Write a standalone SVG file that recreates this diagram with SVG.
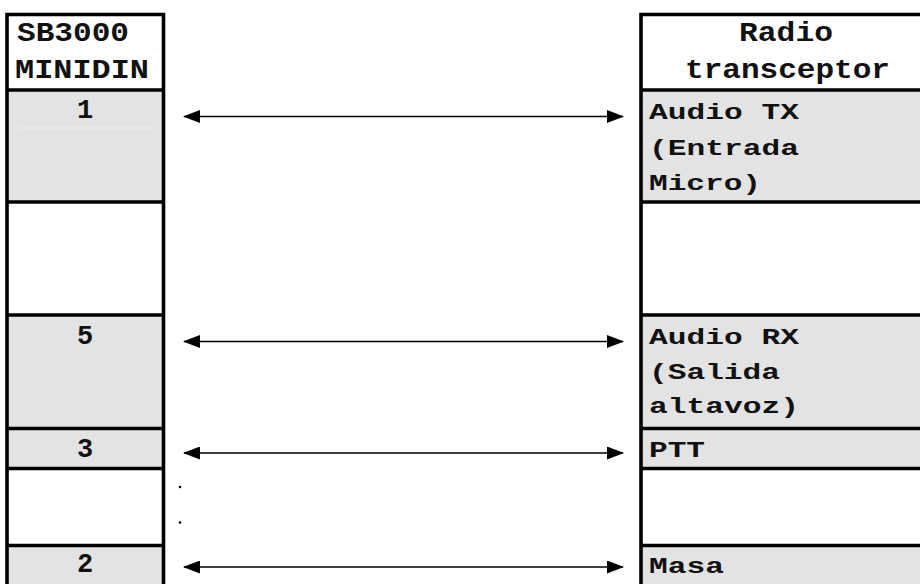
<svg xmlns="http://www.w3.org/2000/svg" width="920" height="584" viewBox="0 0 920 584">
<defs>
<style>
.g{fill:#e3e3e3}
.w{fill:#ffffff}
.b{stroke:#000;stroke-width:3.6;fill:none}
.t{font-family:"Liberation Mono","Courier New",monospace;font-weight:bold;font-size:22px;fill:#111}
.h{font-family:"Liberation Mono","Courier New",monospace;font-weight:bold;font-size:27px;fill:#111}
.c{stroke:#000;stroke-width:1.6;fill:none;marker-start:url(#ah);marker-end:url(#ah)}
</style>
<marker id="ah" viewBox="0 0 17 13" refX="16" refY="6.5" markerWidth="17" markerHeight="13" markerUnits="userSpaceOnUse" orient="auto-start-reverse">
<path d="M0,0 L17,6.5 L0,13 Z" fill="#000"/>
</marker>
</defs>
<rect width="920" height="584" fill="#fff"/>

<g id="left-table">
<rect class="w" x="7" y="14.5" width="156.5" height="75.5"/>
<rect class="g" x="7" y="90" width="156.5" height="112"/>
<rect class="w" x="7" y="202" width="156.5" height="113"/>
<rect class="g" x="7" y="315" width="156.5" height="153.5"/>
<rect class="w" x="7" y="468.5" width="156.5" height="77"/>
<rect class="g" x="7" y="545.5" width="156.5" height="45"/>
<line x1="17" y1="128" x2="155" y2="128" stroke="#efefef" stroke-width="1"/>
<path class="b" d="M7,590 V14.5 H163.5 V590 M5.2,90 H165.3 M5.2,202 H165.3 M5.2,315 H165.3 M5.2,428.5 H165.3 M5.2,468.5 H165.3 M5.2,545.5 H165.3"/>
<text class="h" x="17" y="41" textLength="112" lengthAdjust="spacingAndGlyphs">SB3000</text>
<text class="h" x="15" y="78" textLength="134" lengthAdjust="spacingAndGlyphs">MINIDIN</text>
</g>

<g id="pin-1"><text class="h" x="85" y="118" text-anchor="middle">1</text></g>
<g id="pin-5"><text class="h" x="85" y="344" text-anchor="middle">5</text></g>
<g id="pin-3"><text class="h" x="85" y="457" text-anchor="middle">3</text></g>
<g id="pin-2"><text class="h" x="85" y="572" text-anchor="middle">2</text></g>

<g id="right-table">
<rect class="w" x="641" y="14.5" width="290" height="75.5"/>
<rect class="g" x="641" y="90" width="290" height="112"/>
<rect class="w" x="641" y="202" width="290" height="113"/>
<rect class="g" x="641" y="315" width="290" height="153.5"/>
<rect class="w" x="641" y="468.5" width="290" height="77"/>
<rect class="g" x="641" y="545.5" width="290" height="45"/>
<path class="b" d="M641,590 V14.5 H925 M639.2,90 H925 M639.2,202 H925 M639.2,315 H925 M639.2,428.5 H925 M639.2,468.5 H925 M639.2,545.5 H925"/>
<text class="h" x="739" y="41" textLength="94" lengthAdjust="spacingAndGlyphs">Radio</text>
<text class="h" x="685" y="78" textLength="205" lengthAdjust="spacingAndGlyphs">transceptor</text>
</g>

<g id="audio-tx">
<text class="t" x="649" y="118.5" textLength="150" lengthAdjust="spacingAndGlyphs">Audio TX</text>
<text class="t" x="649" y="154.5" textLength="150" lengthAdjust="spacingAndGlyphs">(Entrada</text>
<text class="t" x="649" y="189.5" textLength="112" lengthAdjust="spacingAndGlyphs">Micro)</text>
</g>
<g id="audio-rx">
<text class="t" x="649" y="343.5" textLength="150" lengthAdjust="spacingAndGlyphs">Audio RX</text>
<text class="t" x="649" y="378.5" textLength="131" lengthAdjust="spacingAndGlyphs">(Salida</text>
<text class="t" x="649" y="412.5" textLength="150" lengthAdjust="spacingAndGlyphs">altavoz)</text>
</g>
<g id="ptt"><text class="t" x="649" y="456.5" textLength="56" lengthAdjust="spacingAndGlyphs">PTT</text></g>
<g id="masa"><text class="t" x="649" y="572.5" textLength="75" lengthAdjust="spacingAndGlyphs">Masa</text></g>

<g id="connectors">
<line class="c" x1="184" y1="116.5" x2="623" y2="116.5"/>
<line class="c" x1="184" y1="341.5" x2="623" y2="341.5"/>
<line class="c" x1="184" y1="453" x2="623" y2="453"/>
<line class="c" x1="184" y1="567" x2="623" y2="567"/>
<circle cx="180" cy="487" r="1.3" fill="#000"/>
<circle cx="180" cy="522.5" r="1.3" fill="#000"/>
</g>
</svg>
